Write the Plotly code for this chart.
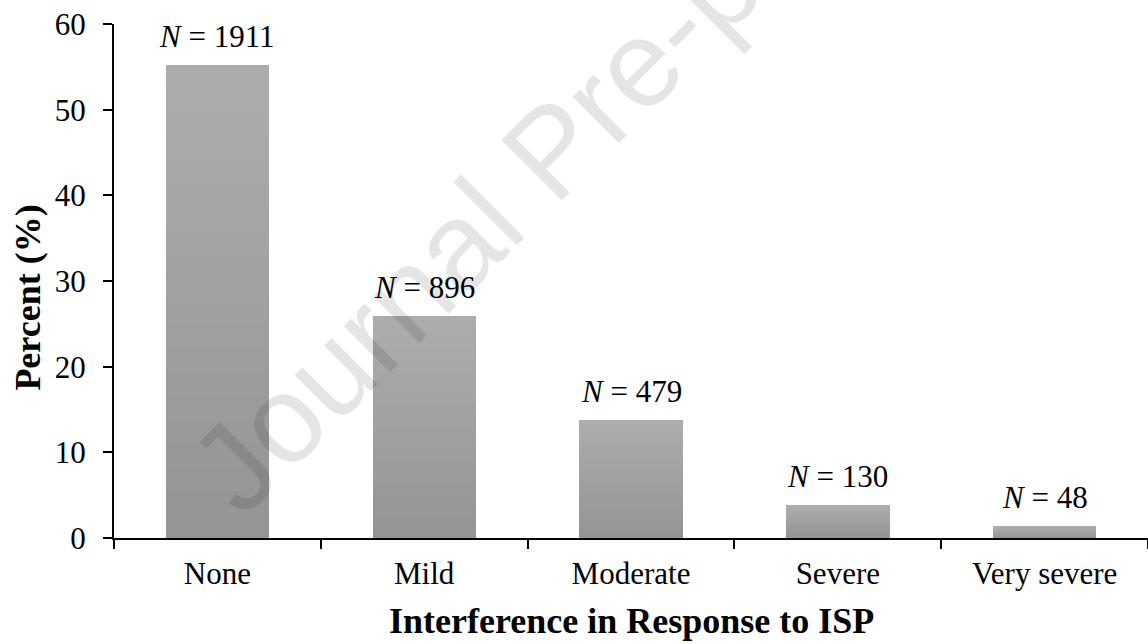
import plotly.graph_objects as go

# ---- data ----
categories = ["None", "Mild", "Moderate", "Severe", "Very severe"]
percent = [55.2, 25.9, 13.8, 3.8, 1.4]
counts = [1911, 896, 479, 130, 48]
y_ticks = [0, 10, 20, 30, 40, 50, 60]

SERIF = "Liberation Serif, Times New Roman, serif"
SANS = "Liberation Sans, Arial, sans-serif"

# bar fill: vertical grey gradient (darker at the base), built by stacking
# equal slices of each bar with shades running from bottom to top
N_SLICES = 20
bottom_rgb = (148, 148, 148)
top_rgb = (173, 173, 173)

fig = go.Figure()
for j in range(N_SLICES):
    f = (j + 0.5) / N_SLICES
    c = tuple(round(b + (t - b) * f) for b, t in zip(bottom_rgb, top_rgb))
    fig.add_trace(go.Bar(
        x=categories,
        y=[p / N_SLICES for p in percent],
        marker=dict(color="rgb(%d,%d,%d)" % c, line=dict(width=0)),
        hoverinfo="skip",
        showlegend=False,
    ))

annotations = []
# N labels above the bars
for cat, p, n in zip(categories, percent, counts):
    annotations.append(dict(
        x=cat, y=p, xref="x", yref="y",
        text="<i>N</i> = %d" % n,
        showarrow=False, xanchor="center", yanchor="bottom", yshift=9,
        font=dict(family=SERIF, size=31, color="black"),
    ))

# y-axis title
annotations.append(dict(
    x=-0.0835, y=0.467, xref="paper", yref="paper",
    text="<b>Percent (%)</b>", textangle=-90,
    showarrow=False, xanchor="center", yanchor="middle",
    font=dict(family=SERIF, size=36, color="black"),
))
# x-axis title
annotations.append(dict(
    x=0.5, y=-0.161, xref="paper", yref="paper",
    text="<b>Interference in Response to ISP</b>",
    showarrow=False, xanchor="center", yanchor="middle",
    font=dict(family=SERIF, size=36, color="black"),
))
# watermark
annotations.append(dict(
    x=0.4232, y=0.754, xref="paper", yref="paper",
    text="Journal Pre-proof", textangle=-45,
    showarrow=False, xanchor="center", yanchor="middle",
    font=dict(family=SANS, size=124, color="rgba(0,0,0,0.1)"),
))

fig.update_layout(
    width=1148, height=644,
    margin=dict(l=114, r=0, t=24, b=106),
    paper_bgcolor="white", plot_bgcolor="white",
    barmode="stack", bargap=0.5,
    hovermode=False,
    annotations=annotations,
    font=dict(family=SERIF, color="black"),
)
fig.update_xaxes(
    type="category", tickson="boundaries",
    ticks="outside", ticklen=9, tickwidth=2, tickcolor="black",
    showline=True, linewidth=2, linecolor="black",
    showgrid=False, zeroline=False,
    tickfont=dict(family=SERIF, size=31, color="black"),
    ticklabelstandoff=7,
)
fig.update_yaxes(
    range=[0, 60], tickvals=y_ticks,
    ticks="outside", ticklen=9, tickwidth=2, tickcolor="black",
    showline=True, linewidth=2, linecolor="black",
    showgrid=False, zeroline=False,
    tickfont=dict(family=SERIF, size=31, color="black"),
    ticklabelstandoff=11,
)

fig.write_html(
    "out.html",
    config={"displayModeBar": False},
    post_script="document.body.style.margin='0';document.body.style.overflow='hidden';",
)
